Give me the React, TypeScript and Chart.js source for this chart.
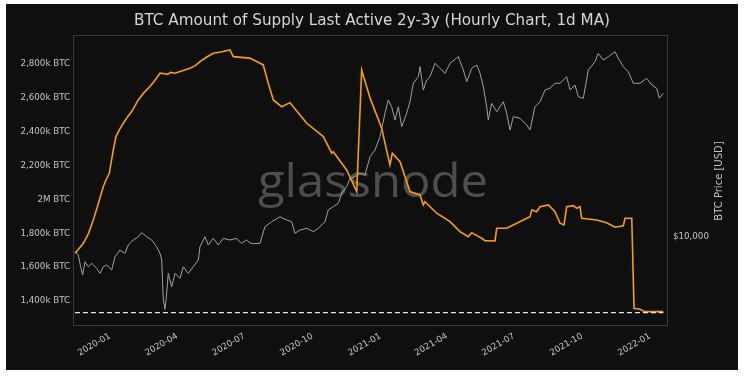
import React, { useEffect, useRef } from 'react';
import { Chart, registerables } from 'chart.js';

Chart.register(...registerables);

const TITLE = 'BTC Amount of Supply Last Active 2y-3y (Hourly Chart, 1d MA)';
const RIGHT_AXIS_TITLE = 'BTC Price [USD]';
const WATERMARK = 'glassnode';

// x values: days since 2020-01-01
const DATE_TICKS = [0, 91, 182, 274, 366, 456, 547, 639, 731];
const DATE_LABELS = ['2020-01', '2020-04', '2020-07', '2020-10', '2021-01', '2021-04', '2021-07', '2021-10', '2022-01'];

const SUPPLY_TICKS = [1400, 1600, 1800, 2000, 2200, 2400, 2600, 2800];
const SUPPLY_TICK_LABELS = ['1,400k BTC', '1,600k BTC', '1,800k BTC', '2M BTC', '2,200k BTC', '2,400k BTC', '2,600k BTC', '2,800k BTC'];

const PRICE_TICKS = [10000];
const PRICE_TICK_LABELS = ['$10,000'];

// Supply last active 2y-3y (thousand BTC)
const SUPPLY_DAYS = [
  -47.4, -41.5, -36.1, -29.0, -22.6, -15.5, -9.1, -5.0, -0.9, 2.0, 4.5, 8.1, 12.5, 18.0, 24.0, 29.4, 33.0, 38.3,
  46.0, 54.1, 60.0, 67.7, 72.0, 78, 82, 88.0, 97.0, 108.3, 115.0, 121.8, 130.0, 139.8,
  150.0, 162.4, 166.9, 189.5, 207.5, 214.3, 221.1, 232.4, 243.7, 266.3, 288.8, 300.2, 302.3, 320.4, 334.0,
  340.7, 352.0, 367.8, 372.3, 379.0, 382.2, 392.6, 406.1, 419.7, 424.1, 426.4, 442.3, 460.3, 473.8,
  485.0, 489.6, 503.2, 507.6, 521.2, 523.5, 537.0, 559.5, 568.6, 570.9, 577.7, 582.1, 593.4, 602.4,
  609.2, 614.6, 618.2, 627.2, 631.8, 636.2, 638.5, 658.8, 672.3, 683.6, 694.9, 697.2, 706.3, 709.4,
  717.5, 724.2, 749.0,
];
const SUPPLY_VALUES = [
  1682, 1712, 1741, 1800, 1879, 1980, 2076, 2120, 2155, 2230, 2293, 2372, 2410, 2451, 2490, 2520, 2548, 2589,
  2632, 2668, 2700, 2747, 2745, 2740, 2752, 2747, 2760, 2776, 2790, 2815, 2840, 2865,
  2872, 2885, 2845, 2836, 2796, 2688, 2589, 2549, 2573, 2451, 2372, 2274, 2283, 2175, 2047,
  2766, 2601, 2422, 2333, 2204, 2274, 2224, 2047, 2027, 1968, 1987, 1919, 1869, 1810,
  1780, 1804, 1771, 1757, 1755, 1830, 1830, 1879, 1899, 1938, 1928, 1958, 1968, 1928,
  1860, 1850, 1958, 1964, 1948, 1958, 1889, 1879, 1863, 1836, 1844, 1889, 1889, 1357,
  1351, 1337, 1337,
];

// BTC price (USD)
const PRICE_DAYS = [
  -47.4, -42.9, -39.7, -37.0, -33.8, -29.4, -24.8, -18.0, -13.5, -9.1, -4.5, 2.3, 6.8, 13.5, 20.3, 24.8,
  31.5, 38.3, 42.9, 49.7, 56.4, 63.2, 67.7, 70.0, 72.2, 74.5, 76.8, 78.9, 83.5, 88.0, 94.8, 99.2,
  106.0, 112.8, 119.5, 121.8, 128.6, 133.1, 139.8, 146.6, 153.4, 162.4, 171.3, 176.0, 178.0, 184.8, 189.5, 193.7, 203.1, 209.8,
  218.9, 230.1, 239.2, 246.0, 250.4, 257.2, 266.3, 275.2, 282.0, 291.0, 295.5, 302.3, 309.1, 313.7,
  320.4, 324.9, 331.7, 338.4, 345.2, 352.0, 358.7, 365.5, 372.3, 376.7, 381.3, 385.8, 390.3, 394.9,
  401.6, 406.1, 410.6, 417.4, 419.7, 424.1, 428.7, 433.2, 440.0, 446.7, 453.5, 460.3, 471.5, 478.3,
  482.9, 489.6, 496.4, 500.9, 505.4, 509.9, 512.1, 516.7, 523.5, 532.4, 537.0, 541.5, 546.0, 555.0,
  564.1, 568.6, 575.3, 582.1, 588.9, 595.6, 602.4, 609.2, 618.2, 622.7, 629.5, 634.0, 640.7, 647.5,
  656.5, 661.0, 667.8, 674.6, 683.6, 688.1, 694.9, 701.6, 708.4, 717.5, 726.5, 733.3, 740.1, 743.6, 749.0,
];
const PRICE_VALUES = [
  8440, 8130, 7100, 6460, 7520, 7100, 7390, 6970, 6580, 7100, 7240, 6840, 7970, 8610, 8290, 9120,
  9660, 10030, 10510, 10030, 9660, 8940, 8290, 7670, 4840, 4350, 5230, 6580, 5640, 6580, 6220, 7100,
  6580, 7100, 7670, 8940, 10030, 9120, 9850, 9120, 9850, 9660, 9850, 9470, 9300, 9660, 9360, 9250, 9300, 11260,
  11920, 12630, 12160, 11920, 10430, 10840, 11050, 10630, 11050, 11920, 13650, 14180, 14740, 16540,
  17840, 19660, 20020, 20820, 20420, 25200, 27230, 31750, 41550, 48420, 44820, 38460, 44820, 35610,
  41550, 47480, 58690, 63320, 71050, 54330, 60950, 63320, 73890, 69740, 65830, 73890, 79720, 68390,
  59780, 69740, 72440, 65830, 56430, 44820, 38460, 46610, 42320, 47480, 41550, 34280, 39960, 39230,
  36310, 34280, 44820, 47480, 54330, 55410, 58690, 58690, 63320, 54330, 57540, 50280, 49370, 68390,
  75260, 82880, 76740, 79720, 84430, 78260, 71050, 67060, 58690, 58690, 62160, 57540, 55410, 49370, 52300,
];

const BASELINE_DAYS = [-47.4, 749.0];
const BASELINE_VALUES = [1331, 1331];

const X_MIN = -48.7;
const X_MAX = 754;
const Y_MIN = 1258;
const Y_MAX = 2967;
const P_MIN = 3631;
const P_MAX = 101158;

const BG = '#0f0f0f';
const TEXT = '#c4c4c4';
const ORANGE = '#f5a00c';
const GREY = '#a0a0a0';

const decorPlugin = {
  id: 'decor',
  beforeDraw(chart: any) {
    const ctx = chart.ctx;
    ctx.save();
    ctx.fillStyle = '#ffffff';
    ctx.fillRect(0, 0, chart.width, chart.height);
    ctx.fillStyle = BG;
    ctx.fillRect(6, 4, 732, 366);
    // title
    ctx.fillStyle = '#d6d6d6';
    ctx.font = '15.2px "DejaVu Sans"';
    ctx.textAlign = 'center';
    ctx.textBaseline = 'middle';
    ctx.fillText(TITLE, 372, 21);
    // right axis title
    ctx.save();
    ctx.translate(719, 181);
    ctx.rotate(-Math.PI / 2);
    ctx.font = '10px "DejaVu Sans"';
    ctx.fillStyle = TEXT;
    ctx.fillText(RIGHT_AXIS_TITLE, 0, 0);
    ctx.restore();
    ctx.restore();
  },
  beforeDatasetsDraw(chart: any) {
    const ctx = chart.ctx;
    const a = chart.chartArea;
    ctx.save();
    // watermark
    ctx.font = '46px "Open Sans"';
    ctx.fillStyle = 'rgba(120,120,120,0.6)';
    ctx.textAlign = 'left';
    ctx.textBaseline = 'alphabetic';
    const w = ctx.measureText(WATERMARK).width;
    const sx = 230 / w;
    ctx.translate(258, 197);
    ctx.scale(sx, 1);
    ctx.fillText(WATERMARK, 0, 0);
    ctx.restore();
    // border
    ctx.save();
    ctx.strokeStyle = '#3a3a3a';
    ctx.lineWidth = 1;
    ctx.strokeRect(a.left - 0.5, a.top - 0.5, a.right - a.left + 1, a.bottom - a.top + 1);
    ctx.restore();
  },
};

export default function App() {
  const ref = useRef<HTMLCanvasElement | null>(null);
  useEffect(() => {
    if (!ref.current) return;
    const chart = new Chart(ref.current, {
      type: 'line',
      data: {
        datasets: [
          {
            label: 'Supply',
            data: SUPPLY_DAYS.map((d, i) => ({ x: d, y: SUPPLY_VALUES[i] })),
            borderColor: ORANGE,
            borderWidth: 1.6,
            pointRadius: 0,
            tension: 0,
            yAxisID: 'y',
            order: 1,
          },
          {
            label: 'Price',
            data: PRICE_DAYS.map((d, i) => ({ x: d, y: PRICE_VALUES[i] })),
            borderColor: GREY,
            borderWidth: 1,
            pointRadius: 0,
            tension: 0,
            yAxisID: 'y2',
            order: 2,
          },
          {
            label: 'Baseline',
            data: BASELINE_DAYS.map((d, i) => ({ x: d, y: BASELINE_VALUES[i] })),
            borderColor: '#e6e6e6',
            borderWidth: 1.4,
            borderDash: [5, 3],
            pointRadius: 0,
            yAxisID: 'y',
            order: 0,
          },
        ],
      },
      options: {
        responsive: false,
        animation: false,
        layout: { padding: { top: 36, left: 0, right: 0, bottom: 0 } },
        plugins: { legend: { display: false }, title: { display: false }, tooltip: { enabled: false } },
        scales: {
          x: {
            type: 'linear',
            min: X_MIN,
            max: X_MAX,
            grid: { display: false, drawTicks: false },
            border: { display: false },
            afterBuildTicks: (s: any) => { s.ticks = DATE_TICKS.map((v) => ({ value: v })); },
            afterFit: (s: any) => { s.height = 51; },
            ticks: {
              autoSkip: false,
              maxRotation: 30,
              minRotation: 30,
              padding: 6,
              color: TEXT,
              font: { family: 'DejaVu Sans', size: 8.7 },
              callback: (v: any) => { const i = DATE_TICKS.indexOf(Number(v)); return i >= 0 ? DATE_LABELS[i] : ''; },
            },
          },
          y: {
            type: 'linear',
            position: 'left',
            min: Y_MIN,
            max: Y_MAX,
            grid: { display: false, drawTicks: false },
            border: { display: false },
            afterBuildTicks: (s: any) => { s.ticks = SUPPLY_TICKS.map((v) => ({ value: v })); },
            afterFit: (s: any) => { s.width = 74; },
            ticks: {
              padding: 4,
              color: TEXT,
              font: { family: 'DejaVu Sans', size: 8.7 },
              callback: (v: any) => { const i = SUPPLY_TICKS.indexOf(Number(v)); return i >= 0 ? SUPPLY_TICK_LABELS[i] : ''; },
            },
          },
          y2: {
            type: 'logarithmic',
            position: 'right',
            min: P_MIN,
            max: P_MAX,
            grid: { display: false, drawTicks: false },
            border: { display: false },
            afterBuildTicks: (s: any) => { s.ticks = PRICE_TICKS.map((v) => ({ value: v })); },
            afterFit: (s: any) => { s.width = 77; },
            ticks: {
              padding: 6,
              color: TEXT,
              font: { family: 'DejaVu Sans', size: 8.7 },
              callback: (v: any) => { const i = PRICE_TICKS.indexOf(Number(v)); return i >= 0 ? PRICE_TICK_LABELS[i] : ''; },
            },
          },
        },
      },
      plugins: [decorPlugin],
    } as any);
    return () => chart.destroy();
  }, []);
  return (
    <div style={{ position: 'absolute', left: 0, top: 0, width: 744, height: 376 }}>
      <canvas ref={ref} width={744} height={376} style={{ width: 744, height: 376, display: 'block' }} />
    </div>
  );
}
